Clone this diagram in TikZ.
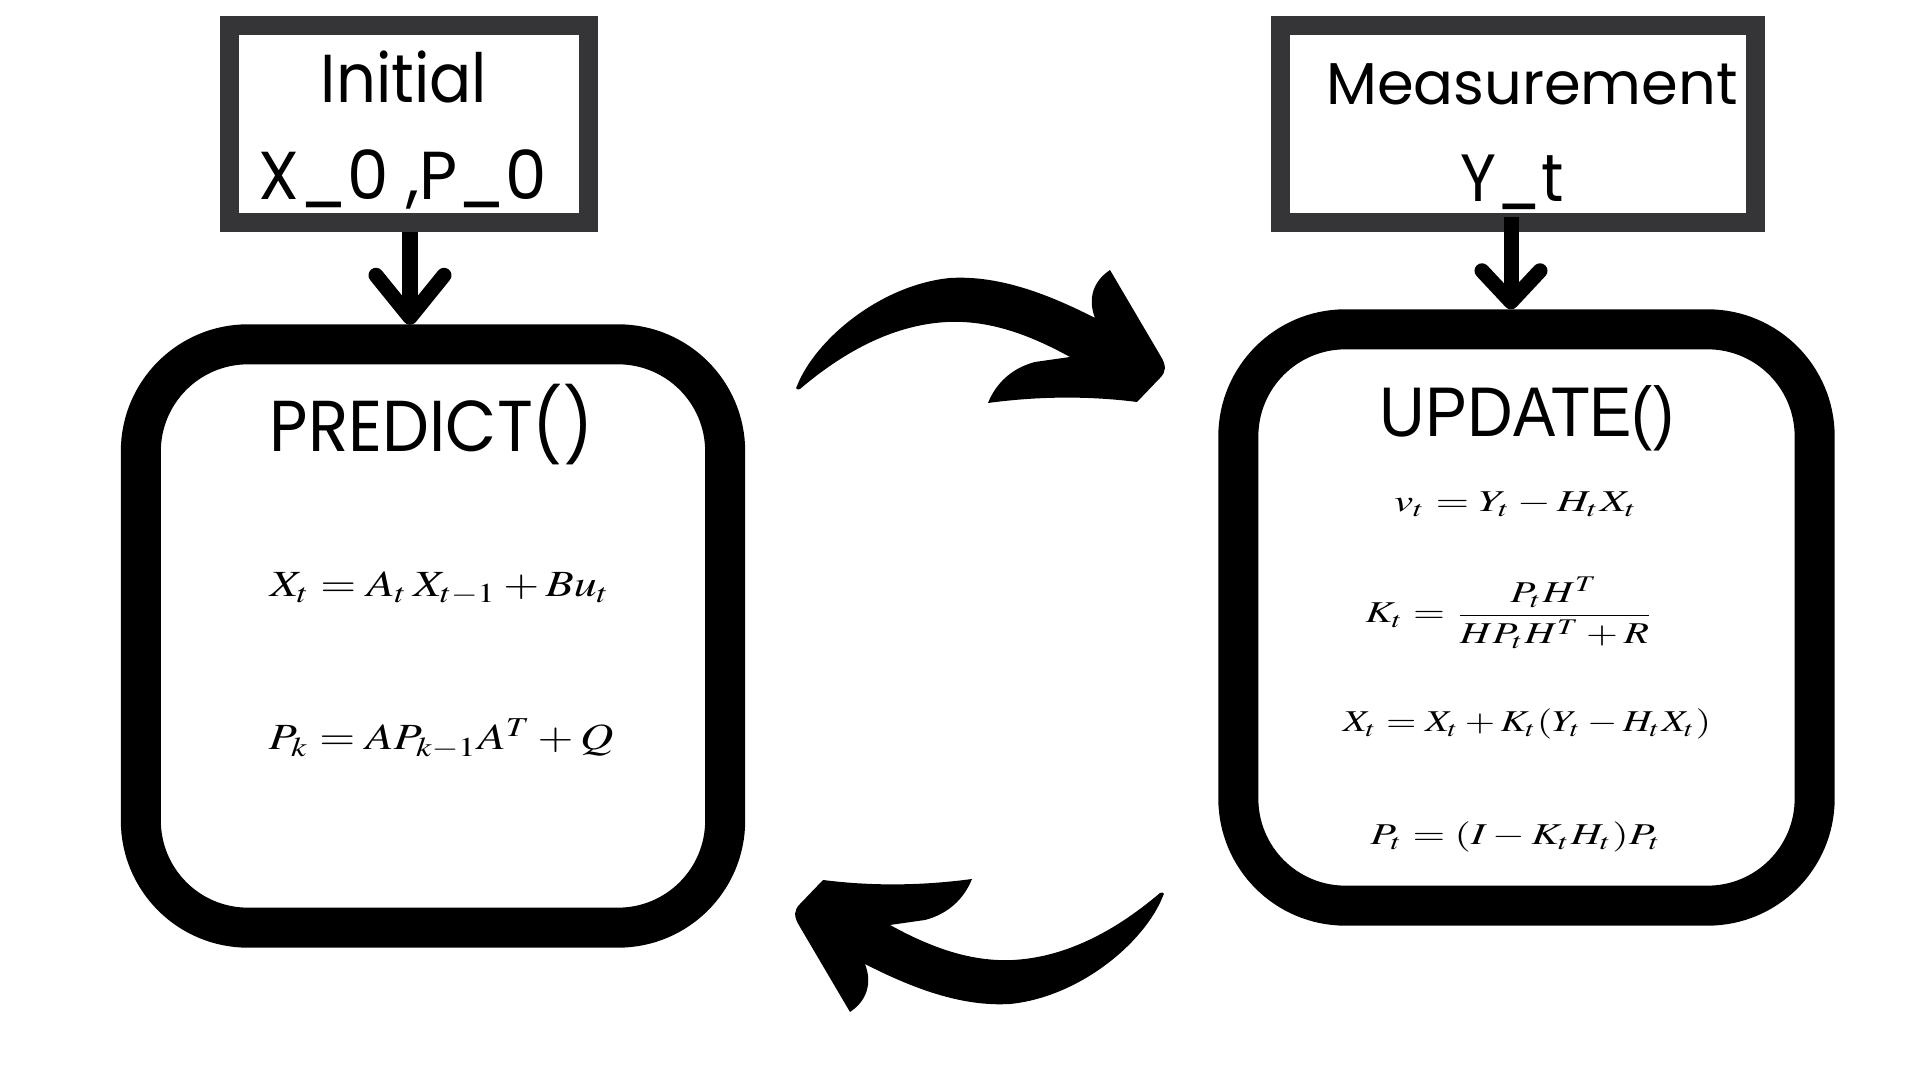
\documentclass[tikz,border=0pt]{standalone}
\usepackage{mathptmx}
\usepackage{fontspec}
\newfontfamily\geofont{Poppins}
\newfontfamily\geofontn[FakeStretch=0.92]{Poppins}
\newfontfamily\geofontm[FakeStretch=0.97]{Poppins}
\newfontfamily\arialfontn[FakeStretch=0.9]{Liberation Sans}
\usetikzlibrary{arrows.meta}
\definecolor{boxgray}{RGB}{53,53,56}
\newcommand\kfarrowpath{(797,386) .. controls (815,340) and (880,285) .. (950,278)
 .. controls (1000,275) and (1050,295) .. (1095,318)
 .. controls (1088,300) and (1092,282) .. (1110,270) -- (1160,355)
 .. controls (1167,366) and (1166,372) .. (1160,378) -- (1137,402)
 .. controls (1090,396) and (1040,396) .. (988,403)
 .. controls (996,383) and (1012,368) .. (1035,362) -- (1070,357)
 .. controls (1030,335) and (990,320) .. (947,322)
 .. controls (890,325) and (840,355) .. (800,389)
 .. controls (797,390) and (795,389) .. cycle}
\begin{document}
\begin{tikzpicture}[x=0.01cm,y=-0.01cm,
  inbox/.style={draw=boxgray, line width=0.19cm, fill=white, inner sep=0pt, outer sep=0pt},
  roundbox/.style={draw=black, line width=0.40cm, fill=white, rounded corners=1.07cm, inner sep=0pt, outer sep=0pt},
  conn/.style={line width=0.15cm, black},
  eq/.style={anchor=base, inner sep=0pt, font=\fontsize{10.5pt}{12pt}\selectfont},
  ueq/.style={anchor=base, inner sep=0pt, font=\fontsize{8.6pt}{10pt}\selectfont},
  lbl/.style={anchor=base, inner sep=0pt}]
\useasboundingbox (0,0) rectangle (1920,1080);
\fill[white] (0,0) rectangle (1920,1080);

% boxes
\node[inbox, minimum width=3.59cm, minimum height=1.965cm] (init) at (409,124.25) {};
\node[inbox, minimum width=4.745cm, minimum height=1.965cm] (meas) at (1518.25,124.25) {};
\node[roundbox, minimum width=5.84cm, minimum height=5.83cm] (pred) at (433,636) {};
\node[roundbox, minimum width=5.76cm, minimum height=5.76cm] (upd) at (1526.5,617.5) {};

% box texts
\node[lbl, font=\geofontn\fontsize{19.3pt}{22pt}\selectfont] (initA) at (404,103) {Initial};
\node[lbl, font=\geofontm\fontsize{19.3pt}{22pt}\selectfont] (initB) at (403,200) {X\_0 ,P\_0};
\node[lbl, font=\geofont\fontsize{16.8pt}{20pt}\selectfont] (measA) at (1532,105) {Measurement};
\node[lbl, font=\geofontn\fontsize{19pt}{22pt}\selectfont] (measB) at (1512,202) {Y\_t};
\node[lbl, font=\geofontn\fontsize{20.5pt}{24pt}\selectfont] (predT) at (431.5,452) {PREDICT()};
\node[lbl, font=\arialfontn\fontsize{20pt}{24pt}\selectfont] (updT) at (1527,437) {UPDATE()};

% equations
\node[eq] (peq1) at (440,597) {\scalebox{1.25}[1]{$X_t = A_t\,X_{t-1} + Bu_t$}};
\node[eq] (peq2) at (441,750) {\scalebox{1.25}[1]{$P_k = A P_{k-1} A^T + Q$}};
\node[ueq] (ueq1) at (1516,512) {\scalebox{1.43}[1]{$v_t = Y_t - H_t X_t$}};
\node[ueq] (ueq2) at (1510,623) {\scalebox{1.36}[1]{$K_t = \displaystyle\frac{P_t H^T}{H P_t H^T + R}$}};
\node[ueq] (ueq3) at (1527,732) {\scalebox{1.29}[1]{$X_t = X_t + K_t(Y_t - H_t X_t)$}};
\node[ueq] (ueq4) at (1516,845) {\scalebox{1.39}[1]{$P_t = (I - K_t H_t) P_t$}};

% straight connectors
\coordinate (ix) at (410,0);
\coordinate (mx) at (1511,0);
\draw[conn, -{Straight Barb[length=0.42cm, width=0.68cm, round]}]
  ([yshift=-0.095cm]init.south -| ix) -- ([yshift=0.195cm]pred.north -| ix);
\draw[conn, -{Straight Barb[length=0.31cm, width=0.58cm, round]}]
  ([yshift=0.055cm]meas.south -| mx) -- ([yshift=0.20cm]upd.north -| mx);

% cycle arrows
\fill[black] \kfarrowpath;
\fill[black, rotate around={180:(980,641)}] \kfarrowpath;
\end{tikzpicture}
\end{document}
